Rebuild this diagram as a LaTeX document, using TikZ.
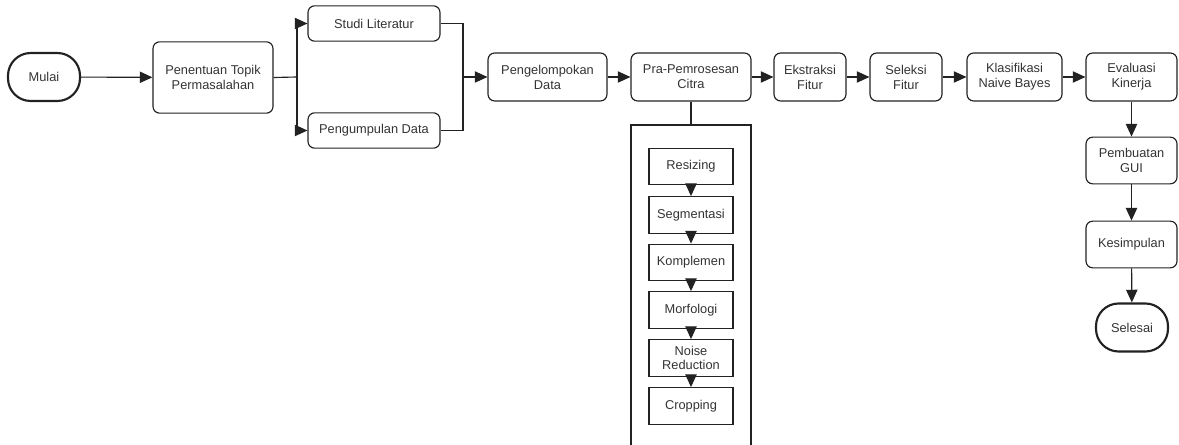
\documentclass[tikz,border=0pt]{standalone}
\usepackage{fontspec}
\setmainfont{Liberation Sans}
\usetikzlibrary{arrows.meta}
\definecolor{txt}{HTML}{333333}
\definecolor{lncol}{HTML}{222222}
\tikzset{
  base/.style={draw=lncol, line width=0.85pt, text=txt, font=\fontsize{9.6}{11.2}\selectfont, align=center, inner sep=0pt},
  rbox/.style={base, rounded corners=5pt, minimum width=#1*0.75pt},
  sbox/.style={base, minimum width=63pt, minimum height=27.5pt},
  term/.style={base, line width=1.6pt, rounded corners=17pt, minimum width=54pt, minimum height=36pt},
  arr/.style={draw=lncol, line width=0.85pt, -{Triangle[length=9.5pt,width=8.5pt]}},
  conn/.style={draw=lncol, line width=0.85pt},
}
\begin{document}
\begin{tikzpicture}[x=0.75pt,y=-0.75pt]
\useasboundingbox (0,0) rectangle (1179,445);
\node[term] (mulai) at (44,77) {Mulai};
\node[rbox=120, minimum height=53.5pt] (topik) at (213,77.5) {Penentuan Topik\\Permasalahan};
\node[rbox=132, minimum height=26.5pt] (studi) at (374,23.5) {Studi Literatur};
\node[rbox=132, minimum height=26.5pt] (kumpul) at (374,130.5) {Pengumpulan Data};
\node[rbox=119, minimum height=36pt] (kelompok) at (547.5,77) {Pengelompokan\\Data};
\node[rbox=120, minimum height=36pt] (pra) at (691,77) {Pra-Pemrosesan\\Citra};
\node[rbox=72, minimum height=36pt] (ekstraksi) at (810,77) {Ekstraksi\\Fitur};
\node[rbox=72, minimum height=36pt] (seleksi) at (906,77) {Seleksi\\Fitur};
\node[rbox=95, minimum height=36pt] (klas) at (1014.5,77) {Klasifikasi\\Naive Bayes};
\node[rbox=91, minimum height=36pt] (eval) at (1131.5,77) {Evaluasi\\Kinerja};
\node[rbox=91, minimum height=35pt] (gui) at (1131.5,160.5) {Pembuatan\\GUI};
\node[rbox=91, minimum height=35pt] (kesim) at (1131.5,244.5) {Kesimpulan};
\node[term] (selesai) at (1132,327.5) {Selesai};
% container
\coordinate (ctl) at (631,125);
\coordinate (ctr) at (751,125);
\coordinate (ctop) at (691,125);
\coordinate (cbl) at (631,446);
\coordinate (cbr) at (751,446);
\draw[conn] (cbl) -- (ctl) -- (ctr) -- (cbr);
\node[sbox] (resize) at (691,166.5) {Resizing};
\node[sbox] (segm) at (691,215) {Segmentasi};
\node[sbox] (komp) at (691,262.5) {Komplemen};
\node[sbox] (morf) at (691,310) {Morfologi};
\node[sbox, font=\fontsize{9.6}{10.6}\selectfont] (noise) at (691,358) {Noise\\Reduction};
\node[sbox] (crop) at (691,406) {Cropping};
% connectors
\draw[arr] (mulai) -- (topik);
\coordinate (j1) at (297,77);
\draw[conn] (topik.east) -- (j1);
\draw[arr] (j1) |- (studi.west);
\draw[arr] (j1) |- (kumpul.west);
\coordinate (j2t) at (463,23.5);
\coordinate (j2b) at (463,130.5);
\coordinate (j2) at (463,77);
\draw[conn] (studi.east) -- (j2t) -- (j2b) -- (kumpul.east);
\draw[arr] (j2) -- (kelompok.west);
\draw[arr] (kelompok) -- (pra);
\draw[arr] (pra) -- (ekstraksi);
\draw[arr] (ekstraksi) -- (seleksi);
\draw[arr] (seleksi) -- (klas);
\draw[arr] (klas) -- (eval);
\draw[arr] (eval) -- (gui);
\draw[arr] (gui) -- (kesim);
\draw[arr] (kesim) -- (selesai);
\draw[conn] (pra.south) -- (ctop);
\draw[arr] (resize) -- (segm);
\draw[arr] (segm) -- (komp);
\draw[arr] (komp) -- (morf);
\draw[arr] (morf) -- (noise);
\draw[arr] (noise) -- (crop);
\end{tikzpicture}
\end{document}
